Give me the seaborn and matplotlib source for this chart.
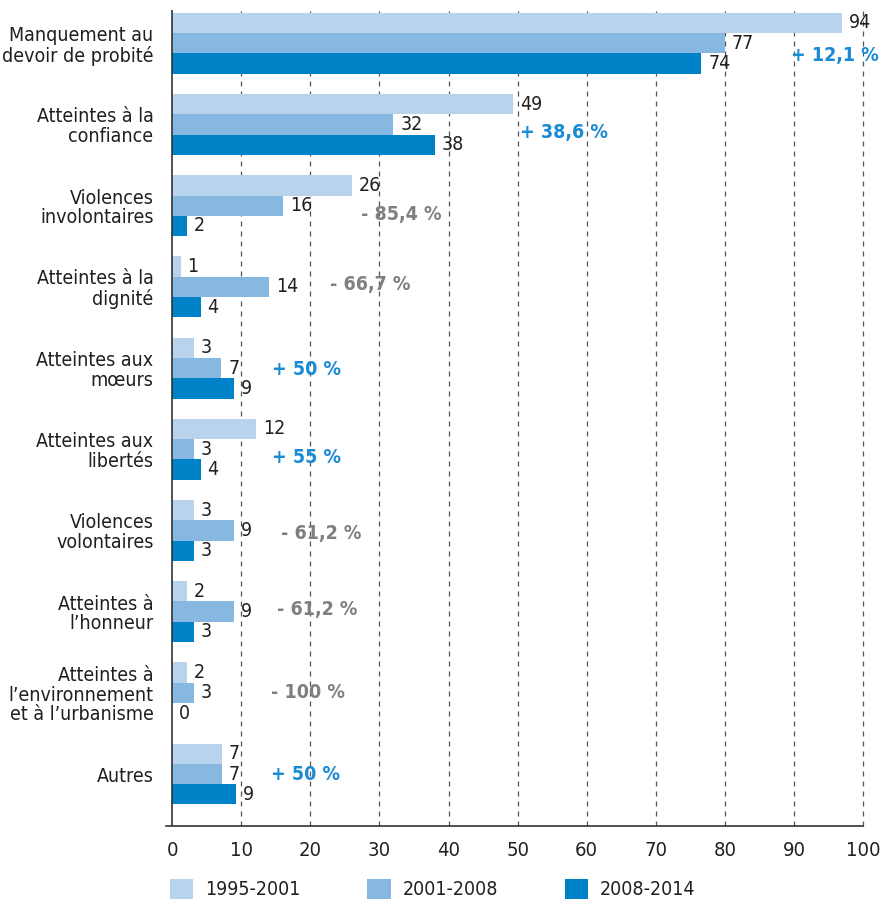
import pandas as pd
import numpy as np
import matplotlib.pyplot as plt
import seaborn as sns

# ---------------- Data ----------------
categories = [
    "Manquement au\ndevoir de probité",
    "Atteintes à la\nconfiance",
    "Violences\ninvolontaires",
    "Atteintes à la\ndignité",
    "Atteintes aux\nmœurs",
    "Atteintes aux\nlibertés",
    "Violences\nvolontaires",
    "Atteintes à\nl’honneur",
    "Atteintes à\nl’environnement\net à l’urbanisme",
    "Autres",
]
periods = ["1995-2001", "2001-2008", "2008-2014"]

# bar lengths as drawn in the picture
bar_1995 = [97, 49.3, 26, 1.2, 3.1, 12.2, 3.1, 2.1, 2.1, 7.2]
bar_2001 = [80, 32, 16, 14, 7.1, 3.1, 9, 9, 3.1, 7.2]
bar_2008 = [76.6, 38, 2.1, 4.1, 9, 4.1, 3.1, 3.1, 0, 9.2]

# printed value labels
label_1995 = [94, 49, 26, 1, 3, 12, 3, 2, 2, 7]
label_2001 = [77, 32, 16, 14, 7, 3, 9, 9, 3, 7]
label_2008 = [74, 38, 2, 4, 9, 4, 3, 3, 0, 9]

# change between first and last period
changes = ["+ 12,1 %", "+ 38,6 %", "- 85,4 %", "- 66,7 %", "+ 50 %",
           "+ 55 %", "- 61,2 %", "- 61,2 %", "- 100 %", "+ 50 %"]

# where each change label sits (x in data units, y offset from group centre)
change_x = [89.6, 50.3, 27.4, 22.8, 14.4, 14.4, 15.7, 15.2, 14.3, 14.3]
change_dy = [0.15, 0.10, 0.11, -0.03, 0.02, 0.10, 0.04, -0.03, 0.0, 0.0]

colors = ["#b9d3ec", "#87b8e2", "#0082c8"]
txt_color = "#231f20"

df = pd.DataFrame({
    "categorie": np.tile(categories, 3),
    "periode": np.repeat(periods, len(categories)),
    "valeur": bar_1995 + bar_2001 + bar_2008,
})

# ---------------- Plot ----------------
sns.set_style("white")
plt.rcParams["font.family"] = ["DejaVu Sans"]
plt.rcParams["font.stretch"] = "condensed"
plt.rcParams["font.size"] = 14

fig = plt.figure(figsize=(8.8, 9.05), dpi=100)
ax = fig.add_axes([166 / 880, 1 - 826 / 905, (863 - 166) / 880, (826 - 10) / 905])

sns.barplot(data=df, x="valeur", y="categorie", hue="periode",
            order=categories, hue_order=periods, palette=colors,
            orient="h", width=0.75, linewidth=0, saturation=1,
            legend=True, ax=ax)

ax.set_xlim(-0.9, 100)
ax.set_ylim(9.64, -0.41)
ax.set_xticks(range(0, 101, 10))
ax.set_xlabel("")
ax.set_ylabel("")

# dashed vertical grid
for xv in range(10, 101, 10):
    ax.axvline(xv, color="#555555", lw=0.9, ls=(0, (4, 4)), zorder=0,
               clip_on=False)
ax.axvline(0, color="#333333", lw=1.2, zorder=3)

for side in ["top", "right", "left"]:
    ax.spines[side].set_visible(False)
ax.spines["bottom"].set_color("#333333")
ax.spines["bottom"].set_linewidth(1.2)
ax.tick_params(axis="x", direction="out", length=6, width=1.2,
               color="#333333", labelsize=14.5, labelcolor=txt_color, pad=5)
ax.tick_params(axis="y", length=0, labelsize=14, labelcolor=txt_color, pad=9)
for lab in ax.get_yticklabels():
    lab.set_multialignment("right")
    lab.set_linespacing(1.05)

# value labels
all_labels = [label_1995, label_2001, label_2008]
for cont, labs in zip(ax.containers, all_labels):
    ax.bar_label(cont, labels=[str(v) for v in labs], padding=5,
                 fontsize=14, color=txt_color)

# change labels
for i, (txt, xv, dy) in enumerate(zip(changes, change_x, change_dy)):
    col = "#1a8ad4" if txt.startswith("+") else "#7f7f7f"
    ax.text(xv, i + dy, txt, color=col, fontsize=14, fontweight="bold",
            ha="left", va="center", clip_on=False)

# legend
handles, labels = ax.get_legend_handles_labels()
ax.get_legend().remove()
fig.legend(handles, labels, loc="center left",
           bbox_to_anchor=(170 / 880, 1 - 889 / 905), ncol=3, frameon=False,
           fontsize=14, handlelength=1.2, handleheight=1.2,
           handletextpad=0.6, columnspacing=3.45, borderpad=0,
           borderaxespad=0, labelcolor=txt_color)

fig.savefig("out.png", dpi=100)
